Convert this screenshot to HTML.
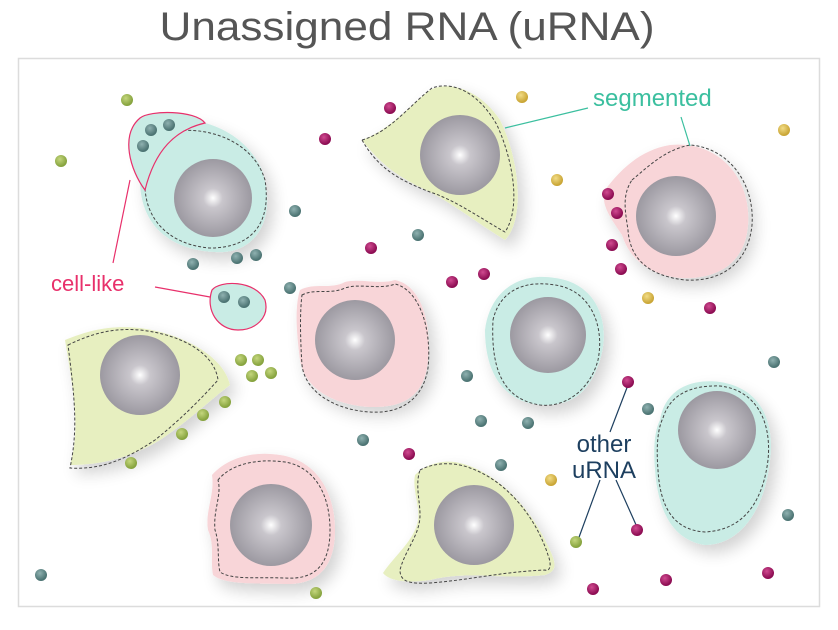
<!DOCTYPE html>
<html><head><meta charset="utf-8"><style>
html,body{margin:0;padding:0;background:#fff;width:838px;height:630px;overflow:hidden}
svg{display:block}
</style></head><body>
<svg width="838" height="630" viewBox="0 0 838 630" xmlns="http://www.w3.org/2000/svg">
<defs>
<radialGradient id="nuc" cx="0.5" cy="0.5" r="0.5"><stop offset="0" stop-color="#ffffff"/><stop offset="0.25" stop-color="#c9c6cc"/><stop offset="1" stop-color="#9c99a1"/></radialGradient>
<radialGradient id="dm" cx="0.4" cy="0.35" r="0.6"><stop offset="0" stop-color="#d04a90"/><stop offset="1" stop-color="#8c0c52"/></radialGradient>
<radialGradient id="dt" cx="0.4" cy="0.35" r="0.6"><stop offset="0" stop-color="#8fb1b0"/><stop offset="1" stop-color="#4b7372"/></radialGradient>
<radialGradient id="dg" cx="0.4" cy="0.35" r="0.6"><stop offset="0" stop-color="#c4d67d"/><stop offset="1" stop-color="#86a33e"/></radialGradient>
<radialGradient id="dy" cx="0.4" cy="0.35" r="0.6"><stop offset="0" stop-color="#f2dc86"/><stop offset="1" stop-color="#c9a535"/></radialGradient>
<filter id="sh" x="-30%" y="-30%" width="160%" height="160%"><feGaussianBlur in="SourceAlpha" stdDeviation="8"/><feOffset dx="6" dy="8"/><feComponentTransfer><feFuncA type="linear" slope="0.18"/></feComponentTransfer><feMerge><feMergeNode/><feMergeNode in="SourceGraphic"/></feMerge></filter>
</defs>
<text x="407" y="40" text-anchor="middle" font-family="Liberation Sans, sans-serif" font-size="40" fill="#555" textLength="495" lengthAdjust="spacingAndGlyphs">Unassigned RNA (uRNA)</text>
<rect x="18.5" y="58.5" width="801" height="548" fill="#fff" stroke="#dcdcdc" stroke-width="1.5"/>
<g stroke="#444" stroke-width="1" stroke-dasharray="3,2" filter="url(#sh)">
<!-- teal top-left -->
<path d="M140,125 C175,110 240,120 262,170 C278,220 255,255 215,252 C170,250 140,225 140,180 C140,150 130,135 140,125Z" fill="#c9ece5" stroke="none"/>
<path d="M150,140 C180,120 250,130 265,180 C272,225 250,248 210,248 C170,245 145,220 145,185 C145,165 145,150 150,140Z" fill="none"/>
<!-- green top -->
<path d="M362,140 C390,130 410,105 430,90 C450,80 480,90 500,120 C520,160 525,220 505,240 C480,225 455,205 430,192 C405,180 385,170 362,140Z" fill="#e7efc0" stroke="none"/>
<path d="M362,140 C390,132 410,105 432,88 C455,80 480,95 497,125 C515,165 520,210 505,232 C480,218 455,200 430,192 C405,182 380,172 362,140Z" fill="none"/>
<!-- pink top-right -->
<path d="M605,190 C620,170 640,150 670,145 C720,140 752,180 748,225 C745,265 715,280 680,278 C650,275 630,260 622,235 C612,220 600,205 605,190Z" fill="#f8d5d8" stroke="none"/>
<path d="M632,180 C650,165 665,150 690,145 C730,148 755,185 752,225 C748,265 720,282 685,280 C650,276 630,260 628,230 C625,210 622,195 632,180Z" fill="none"/>
<!-- pink center -->
<path d="M300,290 C315,282 330,290 345,282 C360,278 380,285 395,280 C420,285 432,320 428,360 C425,395 405,408 370,407 C335,405 305,390 300,360 C296,330 295,305 300,290Z" fill="#f8d5d8" stroke="none"/>
<path d="M302,295 C315,288 330,295 345,288 C360,283 380,290 395,284 C420,290 432,330 428,368 C423,400 400,414 370,412 C335,410 305,392 302,365 C300,335 300,310 302,295Z" fill="none"/>
<!-- teal center -->
<path d="M485,330 C490,290 520,272 555,278 C595,283 612,320 600,360 C590,390 575,405 545,405 C510,405 485,380 485,330Z" fill="#c9ece5" stroke="none"/>
<path d="M493,320 C500,290 525,280 555,285 C590,290 605,325 598,360 C590,390 565,408 540,405 C510,400 490,380 493,320Z" fill="none"/>
<!-- green left -->
<path d="M65,340 C90,330 110,325 140,328 C190,335 225,360 230,385 C210,400 190,420 160,440 C130,458 100,465 70,465 C80,430 75,400 65,340Z" fill="#e7efc0" stroke="none"/>
<path d="M68,345 C95,332 115,328 140,330 C185,335 215,355 218,380 C200,400 180,420 155,440 C125,460 100,470 70,468 C78,430 75,400 68,345Z" fill="none"/>
<!-- teal right -->
<path d="M660,420 C665,390 690,378 720,382 C760,388 775,420 770,460 C765,510 740,545 705,545 C672,540 658,510 655,470 C653,445 655,430 660,420Z" fill="#c9ece5" stroke="none"/>
<path d="M663,418 C670,395 690,385 720,386 C755,390 772,420 768,460 C763,500 745,530 705,532 C672,530 660,505 658,470 C656,445 658,428 663,418Z" fill="none"/>
<!-- pink bottom -->
<path d="M212,475 C225,460 250,450 280,455 C315,460 335,490 335,530 C335,570 315,585 285,584 C255,583 225,585 213,575 C210,560 215,545 208,530 C205,510 215,495 212,475Z" fill="#f8d5d8" stroke="none"/>
<path d="M218,480 C230,465 255,458 285,462 C315,467 330,495 330,530 C330,565 315,580 285,578 C255,577 232,580 220,572 C217,560 220,545 215,530 C213,510 222,495 218,480Z" fill="none"/>
<!-- green bottom -->
<path d="M415,475 C425,465 440,460 455,462 C490,468 525,500 545,540 C555,560 560,570 545,575 C500,580 470,570 430,580 C410,583 390,582 383,573 C395,555 415,540 418,520 C420,505 412,490 415,475Z" fill="#e7efc0" stroke="none"/>
<path d="M420,470 C435,462 455,462 470,468 C505,480 535,515 548,555 C552,565 550,572 545,570 C500,572 470,580 430,583 C410,584 400,582 400,570 C405,550 420,535 420,515 C420,500 415,485 420,470Z" fill="none"/>
</g>
<g fill="url(#nuc)">
<circle cx="213" cy="198" r="39"/><circle cx="460" cy="155" r="40"/><circle cx="676" cy="216" r="40"/>
<circle cx="355" cy="340" r="40"/><circle cx="548" cy="335" r="38"/><circle cx="140" cy="375" r="40"/>
<circle cx="717" cy="430" r="39"/><circle cx="271" cy="525" r="41"/><circle cx="474" cy="525" r="40"/>
</g>
<!-- cell-like outlines -->
<path d="M140,118 C150,110 195,110 205,123 C175,130 155,150 145,190 C130,170 120,135 140,118Z" fill="#c9ece5" stroke="#e8306b" stroke-width="1.2"/>
<path d="M212,290 C220,280 255,280 265,300 C270,318 255,330 238,330 C218,330 205,310 212,290Z" fill="#c9ece5" stroke="#e8306b" stroke-width="1.2"/>
<g stroke="#e8306b" stroke-width="1.2">
<line x1="130" y1="180" x2="113" y2="263"/><line x1="155" y1="287" x2="210" y2="297"/>
</g>
<g stroke="#3bbf9f" stroke-width="1.2">
<line x1="505" y1="128" x2="588" y2="108"/><line x1="681" y1="117" x2="690" y2="146"/>
</g>
<g stroke="#1d3f5f" stroke-width="1.2">
<line x1="628" y1="385" x2="610" y2="432"/><line x1="600" y1="480" x2="578" y2="540"/><line x1="616" y1="480" x2="637" y2="527"/>
</g>
<text x="51" y="291" font-family="Liberation Sans, sans-serif" font-size="22" fill="#e8306b">cell-like</text>
<text x="593" y="106" font-family="Liberation Sans, sans-serif" font-size="24" fill="#3bbf9f">segmented</text>
<text x="604" y="452" text-anchor="middle" font-family="Liberation Sans, sans-serif" font-size="24" fill="#1d3f5f">other</text>
<text x="604" y="478" text-anchor="middle" font-family="Liberation Sans, sans-serif" font-size="24" fill="#1d3f5f">uRNA</text>
<g fill="url(#dt)">
<circle cx="151" cy="130" r="6"/><circle cx="169" cy="125" r="6"/><circle cx="143" cy="146" r="6"/>
<circle cx="224" cy="297" r="6"/><circle cx="244" cy="302" r="6"/>
<circle cx="295" cy="211" r="6"/><circle cx="193" cy="264" r="6"/><circle cx="237" cy="258" r="6"/><circle cx="256" cy="255" r="6"/><circle cx="290" cy="288" r="6"/>
<circle cx="418" cy="235" r="6"/><circle cx="467" cy="376" r="6"/><circle cx="481" cy="421" r="6"/><circle cx="528" cy="423" r="6"/>
<circle cx="363" cy="440" r="6"/><circle cx="501" cy="465" r="6"/><circle cx="648" cy="409" r="6"/><circle cx="774" cy="362" r="6"/>
<circle cx="788" cy="515" r="6"/><circle cx="41" cy="575" r="6"/>
</g>
<g fill="url(#dm)">
<circle cx="325" cy="139" r="6"/><circle cx="390" cy="108" r="6"/><circle cx="371" cy="248" r="6"/><circle cx="452" cy="282" r="6"/><circle cx="484" cy="274" r="6"/>
<circle cx="608" cy="194" r="6"/><circle cx="617" cy="213" r="6"/><circle cx="612" cy="245" r="6"/><circle cx="621" cy="269" r="6"/><circle cx="710" cy="308" r="6"/>
<circle cx="628" cy="382" r="6"/><circle cx="409" cy="454" r="6"/><circle cx="637" cy="530" r="6"/><circle cx="593" cy="589" r="6"/><circle cx="666" cy="580" r="6"/><circle cx="768" cy="573" r="6"/>
</g>
<g fill="url(#dg)">
<circle cx="127" cy="100" r="6"/><circle cx="61" cy="161" r="6"/>
<circle cx="241" cy="360" r="6"/><circle cx="258" cy="360" r="6"/><circle cx="252" cy="376" r="6"/><circle cx="271" cy="373" r="6"/>
<circle cx="225" cy="402" r="6"/><circle cx="203" cy="415" r="6"/><circle cx="182" cy="434" r="6"/><circle cx="131" cy="463" r="6"/>
<circle cx="316" cy="593" r="6"/><circle cx="576" cy="542" r="6"/>
</g>
<g fill="url(#dy)">
<circle cx="522" cy="97" r="6"/><circle cx="557" cy="180" r="6"/><circle cx="784" cy="130" r="6"/><circle cx="648" cy="298" r="6"/><circle cx="551" cy="480" r="6"/>
</g>
</svg>
</body></html>
